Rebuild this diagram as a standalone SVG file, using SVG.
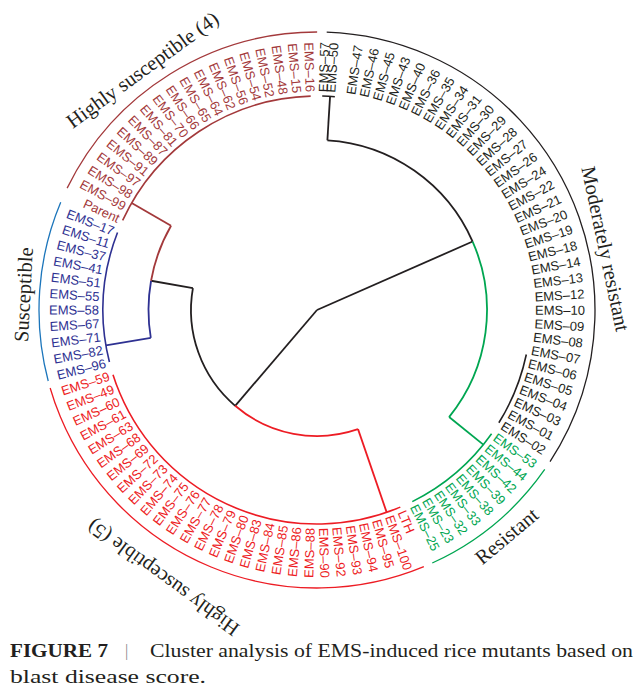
<svg xmlns="http://www.w3.org/2000/svg" width="644" height="693" viewBox="0 0 644 693">
<style>
.t{fill:none;stroke-width:1.8}
.a{fill:none;stroke-width:1.6}
.o{fill:none;stroke-width:1.3}
.k{stroke:#231f20}.g{stroke:#00a651}.r{stroke:#ed1c24}.b{stroke:#2e3192}.n{stroke:#a3393b}.lb{stroke:#1b75bb}
.L{font-family:"Liberation Sans",Arial,sans-serif;font-size:13px}
.R{text-anchor:end}
.tk{fill:#231f20}.tg{fill:#00a651}.tr{fill:#ed1c24}.tb{fill:#2e3192}.tn{fill:#a3393b}
.G{font-family:"Liberation Serif","Times New Roman",serif;font-size:20.5px;fill:#231f20;text-anchor:middle}
.C{font-family:"Liberation Serif","Times New Roman",serif;font-size:19px;fill:#231f20}
</style>
<rect width="644" height="693" fill="#fff"/>
<g transform="translate(317,310)">
<g id="connectors">
<line class="t k" x1="0" x2="170" transform="rotate(-23.75)"/>
<line class="t k" x1="0" x2="126" transform="rotate(130.5)"/>
<circle class="t k" r="170" stroke-dasharray="186.2 2000" transform="rotate(-86.5)"/>
<circle class="t g" r="170" stroke-dasharray="186.2 2000" transform="rotate(-23.75)"/>
<line class="t k" x1="170" x2="214" transform="rotate(-86.5)"/>
<line class="t g" x1="170" x2="214" transform="rotate(39)"/>
<circle class="t k" r="126" stroke-dasharray="130.8 2000" transform="rotate(130.5)"/>
<circle class="t r" r="126" stroke-dasharray="130.8 2000" transform="rotate(71)"/>
<line class="t r" x1="126" x2="214" transform="rotate(71)"/>
<line class="t k" x1="126" x2="168.5" transform="rotate(190)"/>
<circle class="t b" r="168.5" stroke-dasharray="57.35 2000" transform="rotate(170.5)"/>
<circle class="t n" r="168.5" stroke-dasharray="58.8 2000" transform="rotate(190)"/>
<line class="t b" x1="168.5" x2="214" transform="rotate(170.5)"/>
<line class="t n" x1="168.5" x2="214" transform="rotate(210)"/>
<circle class="a k" r="214" stroke-dasharray="12.7 2000" transform="rotate(-88.6)"/>
<circle class="a k" r="214" stroke-dasharray="74 2000" transform="rotate(12)"/>
<circle class="a g" r="214" stroke-dasharray="105.4 2000" transform="rotate(35.33)"/>
<circle class="a r" r="214" stroke-dasharray="355.9 2000" transform="rotate(67.09)"/>
<circle class="a b" r="214" stroke-dasharray="131.8 2000" transform="rotate(165.92)"/>
<circle class="a n" r="214" stroke-dasharray="237.3 2000" transform="rotate(204.74)"/>
</g>
<g id="brackets">
<circle class="o k" r="278" stroke-dasharray="587.1 2000" transform="rotate(-88)"/>
<circle class="o g" r="278" stroke-dasharray="148 2000" transform="rotate(35)"/>
<circle class="o r" r="278" stroke-dasharray="467.2 2000" transform="rotate(67.4)"/>
<circle class="o lb" r="278" stroke-dasharray="182.4 2000" transform="rotate(165.2)"/>
<circle class="o n" r="278" stroke-dasharray="310.5 2000" transform="rotate(206)"/>
</g>
<g id="moderately-resistant" class="L tk">
<text dy="0.36em" transform="rotate(-88.4) translate(218 0)">EMS–57</text>
<text dy="0.36em" transform="rotate(-86.4) translate(218 0)">EMS–50</text>
<text dy="0.36em" transform="rotate(-81.14) translate(218 0)">EMS–47</text>
<text dy="0.36em" transform="rotate(-77.61) translate(218 0)">EMS–46</text>
<text dy="0.36em" transform="rotate(-74.08) translate(218 0)">EMS–45</text>
<text dy="0.36em" transform="rotate(-70.55) translate(218 0)">EMS–43</text>
<text dy="0.36em" transform="rotate(-67.02) translate(218 0)">EMS–40</text>
<text dy="0.36em" transform="rotate(-63.49) translate(218 0)">EMS–36</text>
<text dy="0.36em" transform="rotate(-59.96) translate(218 0)">EMS–35</text>
<text dy="0.36em" transform="rotate(-56.44) translate(218 0)">EMS–34</text>
<text dy="0.36em" transform="rotate(-52.91) translate(218 0)">EMS–31</text>
<text dy="0.36em" transform="rotate(-49.38) translate(218 0)">EMS–30</text>
<text dy="0.36em" transform="rotate(-45.85) translate(218 0)">EMS–29</text>
<text dy="0.36em" transform="rotate(-42.32) translate(218 0)">EMS–28</text>
<text dy="0.36em" transform="rotate(-38.79) translate(218 0)">EMS–27</text>
<text dy="0.36em" transform="rotate(-35.26) translate(218 0)">EMS–26</text>
<text dy="0.36em" transform="rotate(-31.73) translate(218 0)">EMS–24</text>
<text dy="0.36em" transform="rotate(-28.2) translate(218 0)">EMS–22</text>
<text dy="0.36em" transform="rotate(-24.67) translate(218 0)">EMS–21</text>
<text dy="0.36em" transform="rotate(-21.14) translate(218 0)">EMS–20</text>
<text dy="0.36em" transform="rotate(-17.61) translate(218 0)">EMS–19</text>
<text dy="0.36em" transform="rotate(-14.08) translate(218 0)">EMS–18</text>
<text dy="0.36em" transform="rotate(-10.55) translate(218 0)">EMS–14</text>
<text dy="0.36em" transform="rotate(-7.02) translate(218 0)">EMS–13</text>
<text dy="0.36em" transform="rotate(-3.49) translate(218 0)">EMS–12</text>
<text dy="0.36em" transform="rotate(0.04) translate(218 0)">EMS–10</text>
<text dy="0.36em" transform="rotate(3.56) translate(218 0)">EMS–09</text>
<text dy="0.36em" transform="rotate(7.09) translate(218 0)">EMS–08</text>
<text dy="0.36em" transform="rotate(10.62) translate(218 0)">EMS–07</text>
<text dy="0.36em" transform="rotate(14.15) translate(218 0)">EMS–06</text>
<text dy="0.36em" transform="rotate(17.68) translate(218 0)">EMS–05</text>
<text dy="0.36em" transform="rotate(21.21) translate(218 0)">EMS–04</text>
<text dy="0.36em" transform="rotate(24.74) translate(218 0)">EMS–03</text>
<text dy="0.36em" transform="rotate(28.27) translate(218 0)">EMS–01</text>
<text dy="0.36em" transform="rotate(31.8) translate(218 0)">EMS–02</text>
</g>
<g id="resistant" class="L tg">
<text dy="0.36em" transform="rotate(35.33) translate(218 0)">EMS–53</text>
<text dy="0.36em" transform="rotate(38.86) translate(218 0)">EMS–44</text>
<text dy="0.36em" transform="rotate(42.39) translate(218 0)">EMS–42</text>
<text dy="0.36em" transform="rotate(45.92) translate(218 0)">EMS–39</text>
<text dy="0.36em" transform="rotate(49.45) translate(218 0)">EMS–38</text>
<text dy="0.36em" transform="rotate(52.98) translate(218 0)">EMS–33</text>
<text dy="0.36em" transform="rotate(56.51) translate(218 0)">EMS–32</text>
<text dy="0.36em" transform="rotate(60.03) translate(218 0)">EMS–23</text>
<text dy="0.36em" transform="rotate(63.56) translate(218 0)">EMS–25</text>
</g>
<g id="highly-susceptible-5" class="L tr">
<text dy="0.36em" transform="rotate(67.09) translate(218 0)">LTH</text>
<text dy="0.36em" transform="rotate(70.62) translate(218 0)">EMS–100</text>
<text dy="0.36em" transform="rotate(74.15) translate(218 0)">EMS–95</text>
<text dy="0.36em" transform="rotate(77.68) translate(218 0)">EMS–94</text>
<text dy="0.36em" transform="rotate(81.21) translate(218 0)">EMS–93</text>
<text dy="0.36em" transform="rotate(84.74) translate(218 0)">EMS–92</text>
<text dy="0.36em" transform="rotate(88.27) translate(218 0)">EMS–90</text>
<text class="R" dy="0.36em" transform="rotate(-88.2) translate(-218 0)">EMS–88</text>
<text class="R" dy="0.36em" transform="rotate(-84.67) translate(-218 0)">EMS–86</text>
<text class="R" dy="0.36em" transform="rotate(-81.14) translate(-218 0)">EMS–85</text>
<text class="R" dy="0.36em" transform="rotate(-77.61) translate(-218 0)">EMS–84</text>
<text class="R" dy="0.36em" transform="rotate(-74.08) translate(-218 0)">EMS–83</text>
<text class="R" dy="0.36em" transform="rotate(-70.55) translate(-218 0)">EMS–80</text>
<text class="R" dy="0.36em" transform="rotate(-67.02) translate(-218 0)">EMS–79</text>
<text class="R" dy="0.36em" transform="rotate(-63.49) translate(-218 0)">EMS–78</text>
<text class="R" dy="0.36em" transform="rotate(-59.97) translate(-218 0)">EMS–77</text>
<text class="R" dy="0.36em" transform="rotate(-56.44) translate(-218 0)">EMS–76</text>
<text class="R" dy="0.36em" transform="rotate(-52.91) translate(-218 0)">EMS–75</text>
<text class="R" dy="0.36em" transform="rotate(-49.38) translate(-218 0)">EMS–74</text>
<text class="R" dy="0.36em" transform="rotate(-45.85) translate(-218 0)">EMS–73</text>
<text class="R" dy="0.36em" transform="rotate(-42.32) translate(-218 0)">EMS–72</text>
<text class="R" dy="0.36em" transform="rotate(-38.79) translate(-218 0)">EMS–69</text>
<text class="R" dy="0.36em" transform="rotate(-35.26) translate(-218 0)">EMS–68</text>
<text class="R" dy="0.36em" transform="rotate(-31.73) translate(-218 0)">EMS–63</text>
<text class="R" dy="0.36em" transform="rotate(-28.2) translate(-218 0)">EMS–61</text>
<text class="R" dy="0.36em" transform="rotate(-24.67) translate(-218 0)">EMS–60</text>
<text class="R" dy="0.36em" transform="rotate(-21.14) translate(-218 0)">EMS–49</text>
<text class="R" dy="0.36em" transform="rotate(-17.61) translate(-218 0)">EMS–59</text>
</g>
<g id="susceptible" class="L tb">
<text class="R" dy="0.36em" transform="rotate(-14.08) translate(-218 0)">EMS–96</text>
<text class="R" dy="0.36em" transform="rotate(-10.55) translate(-218 0)">EMS–82</text>
<text class="R" dy="0.36em" transform="rotate(-7.02) translate(-218 0)">EMS–71</text>
<text class="R" dy="0.36em" transform="rotate(-3.49) translate(-218 0)">EMS–67</text>
<text class="R" dy="0.36em" transform="rotate(0.03) translate(-218 0)">EMS–58</text>
<text class="R" dy="0.36em" transform="rotate(3.56) translate(-218 0)">EMS–55</text>
<text class="R" dy="0.36em" transform="rotate(7.09) translate(-218 0)">EMS–51</text>
<text class="R" dy="0.36em" transform="rotate(10.62) translate(-218 0)">EMS–41</text>
<text class="R" dy="0.36em" transform="rotate(14.15) translate(-218 0)">EMS–37</text>
<text class="R" dy="0.36em" transform="rotate(17.68) translate(-218 0)">EMS–11</text>
<text class="R" dy="0.36em" transform="rotate(21.21) translate(-218 0)">EMS–17</text>
</g>
<g id="highly-susceptible-4" class="L tn">
<text class="R" dy="0.36em" transform="rotate(24.74) translate(-218 0)">Parent</text>
<text class="R" dy="0.36em" transform="rotate(28.27) translate(-218 0)">EMS–99</text>
<text class="R" dy="0.36em" transform="rotate(31.8) translate(-218 0)">EMS–98</text>
<text class="R" dy="0.36em" transform="rotate(35.33) translate(-218 0)">EMS–97</text>
<text class="R" dy="0.36em" transform="rotate(38.86) translate(-218 0)">EMS–91</text>
<text class="R" dy="0.36em" transform="rotate(42.39) translate(-218 0)">EMS–89</text>
<text class="R" dy="0.36em" transform="rotate(45.92) translate(-218 0)">EMS–87</text>
<text class="R" dy="0.36em" transform="rotate(49.45) translate(-218 0)">EMS–81</text>
<text class="R" dy="0.36em" transform="rotate(52.98) translate(-218 0)">EMS–70</text>
<text class="R" dy="0.36em" transform="rotate(56.51) translate(-218 0)">EMS–66</text>
<text class="R" dy="0.36em" transform="rotate(60.03) translate(-218 0)">EMS–65</text>
<text class="R" dy="0.36em" transform="rotate(63.56) translate(-218 0)">EMS–64</text>
<text class="R" dy="0.36em" transform="rotate(67.09) translate(-218 0)">EMS–62</text>
<text class="R" dy="0.36em" transform="rotate(70.62) translate(-218 0)">EMS–56</text>
<text class="R" dy="0.36em" transform="rotate(74.15) translate(-218 0)">EMS–54</text>
<text class="R" dy="0.36em" transform="rotate(77.68) translate(-218 0)">EMS–52</text>
<text class="R" dy="0.36em" transform="rotate(81.21) translate(-218 0)">EMS–48</text>
<text class="R" dy="0.36em" transform="rotate(84.74) translate(-218 0)">EMS–15</text>
<text class="R" dy="0.36em" transform="rotate(88.27) translate(-218 0)">EMS–16</text>
</g>
<g id="group-labels" class="G">
<text dominant-baseline="central" transform="rotate(-126) translate(297 0) rotate(90)">Highly susceptible (4)</text>
<text dominant-baseline="central" transform="rotate(-12) translate(295 0) rotate(90)">Moderately resistant</text>
<text dominant-baseline="central" transform="rotate(50) translate(295 0) rotate(-90)">Resistant</text>
<text dominant-baseline="central" transform="rotate(183) translate(294 0) rotate(90)">Susceptible</text>
<text dominant-baseline="central" transform="translate(-154 268) rotate(216)">Highly susceptible (5)</text>
</g>
</g>
<g id="caption" class="C">
<text x="10" y="657" font-weight="bold" textLength="98" lengthAdjust="spacingAndGlyphs">FIGURE 7</text>
<text x="125" y="656" fill="#888" font-size="16">|</text>
<text x="150" y="657" textLength="483" lengthAdjust="spacingAndGlyphs">Cluster analysis of EMS-induced rice mutants based on</text>
<text x="10" y="683" textLength="196" lengthAdjust="spacingAndGlyphs">blast disease score.</text>
</g>
</svg>
